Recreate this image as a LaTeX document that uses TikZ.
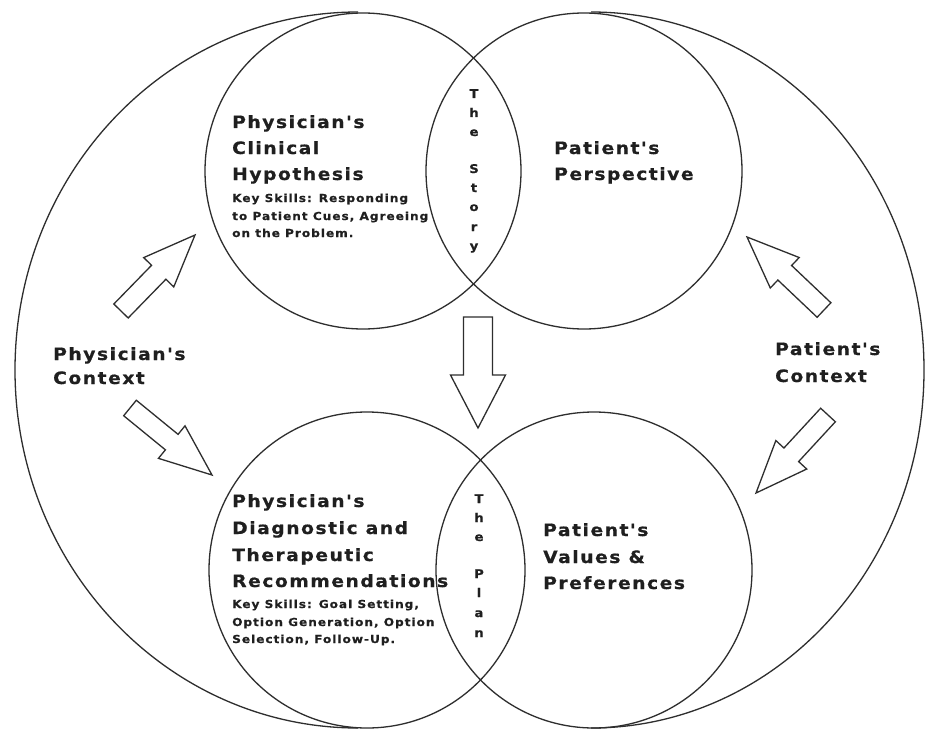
\documentclass[tikz,border=0pt]{standalone}
\usepackage{fontspec}
\usetikzlibrary{calc}
\newfontfamily\pixfont{DejaVu Sans}[UprightFont=* Bold, FakeStretch=1.1, LetterSpace=9, FakeBold=0.6]
\definecolor{ink}{gray}{0.18}
\definecolor{textink}{gray}{0.12}

% block arrow: name, tail, tip, shaft half width, head half width, head length
\newcommand\fatarrow[6]{%
  \coordinate (#1-neck) at ($(#3)!#6!(#2)$);
  \draw[arrowline]
    ($(#2)!#4!90:(#3)$) -- ($(#1-neck)!#4!90:(#3)$) -- ($(#1-neck)!#5!90:(#3)$)
    -- (#3)
    -- ($(#1-neck)!#5!-90:(#3)$) -- ($(#1-neck)!#4!-90:(#3)$) -- ($(#2)!#4!-90:(#3)$)
    -- cycle;
}

\tikzset{
  ring/.style={circle, draw=ink, line width=1.3pt, minimum size=316pt, inner sep=0pt},
  outline/.style={draw=ink, line width=1.3pt},
  arrowline/.style={draw=ink, line width=1.3pt, line join=miter, fill=white},
  title/.style={font=\pixfont\fontsize{17}{20}\selectfont, text=textink, anchor=base west, inner sep=0pt},
  skills/.style={font=\pixfont\fontsize{11}{13}\selectfont, text=textink, anchor=base west, inner sep=0pt},
  vletter/.style={font=\pixfont\fontsize{12}{14}\selectfont, text=textink, anchor=base, inner sep=0pt},
}

\begin{document}
\begin{tikzpicture}[x=1pt, y=-1pt]
\useasboundingbox[fill=white] (0,0) rectangle (925,730);

% the two contexts: half ellipses
\draw[outline] (358,12) arc[start angle=90, end angle=270, x radius=343pt, y radius=358pt];
\draw[outline] (591,12) arc[start angle=90, end angle=-90, x radius=333pt, y radius=358pt];

% the four circles
\node[ring] (hyp)  at (363,171) {};
\node[ring] (persp) at (584,171) {};
\node[ring] (rec)  at (367,570) {};
\node[ring] (vals) at (594,570) {};

% block arrows
\coordinate (a1t) at (121,311); \coordinate (a1h) at (195,235);
\coordinate (a2t) at (130,408); \coordinate (a2h) at (212,475);
\coordinate (a3t) at (824,310); \coordinate (a3h) at (747,237);
\coordinate (a4t) at (828,415); \coordinate (a4h) at (756,493);
\coordinate (a5t) at (478,317); \coordinate (a5h) at (478,428);
\fatarrow{a1}{a1t}{a1h}{10pt}{21pt}{52pt}
\fatarrow{a2}{a2t}{a2h}{10pt}{21pt}{52pt}
\fatarrow{a3}{a3t}{a3h}{10pt}{21pt}{52pt}
\fatarrow{a4}{a4t}{a4h}{10pt}{21pt}{52pt}
\fatarrow{a5}{a5t}{a5h}{14.5pt}{27.5pt}{53pt}

% upper left circle text
\node[title] (h1) at (232,128) {Physician's};
\node[title] (h2) at (232,154) {Clinical};
\node[title] (h3) at (232,180) {Hypothesis};
\node[skills] (h4) at (232,202) {Key Skills: Responding};
\node[skills] (h5) at (232,220) {to Patient Cues, Agreeing};
\node[skills] (h6) at (232,237) {on the Problem.};

% upper right circle text
\node[title] (p1) at (554,154) {Patient's};
\node[title] (p2) at (554,180) {Perspective};

% lower left circle text
\node[title] (r1) at (232,507) {Physician's};
\node[title] (r2) at (232,534) {Diagnostic and};
\node[title] (r3) at (232,561) {Therapeutic};
\node[title] (r4) at (232,587) {Recommendations};
\node[skills] (r5) at (232,608) {Key Skills: Goal Setting,};
\node[skills] (r6) at (232,626) {Option Generation, Option};
\node[skills] (r7) at (232,643) {Selection, Follow-Up.};

% lower right circle text
\node[title] (v1) at (543,536) {Patient's};
\node[title] (v2) at (543,563) {Values \&};
\node[title] (v3) at (543,589) {Preferences};

% context labels
\node[title] (c1) at (53,360) {Physician's};
\node[title] (c2) at (53,384) {Context};
\node[title] (c3) at (775,355) {Patient's};
\node[title] (c4) at (775,382) {Context};

% vertical words in the overlaps
\foreach \ch/\yy [count=\k] in {T/98, h/117, e/136, S/173, t/192, o/211, r/231, y/250}
  \node[vletter] (story-\k) at (474,\yy) {\ch};
\foreach \ch/\yy [count=\k] in {T/503, h/522, e/541, P/578, l/597, a/617, n/637}
  \node[vletter] (plan-\k) at (479,\yy) {\ch};
\end{tikzpicture}
\end{document}
